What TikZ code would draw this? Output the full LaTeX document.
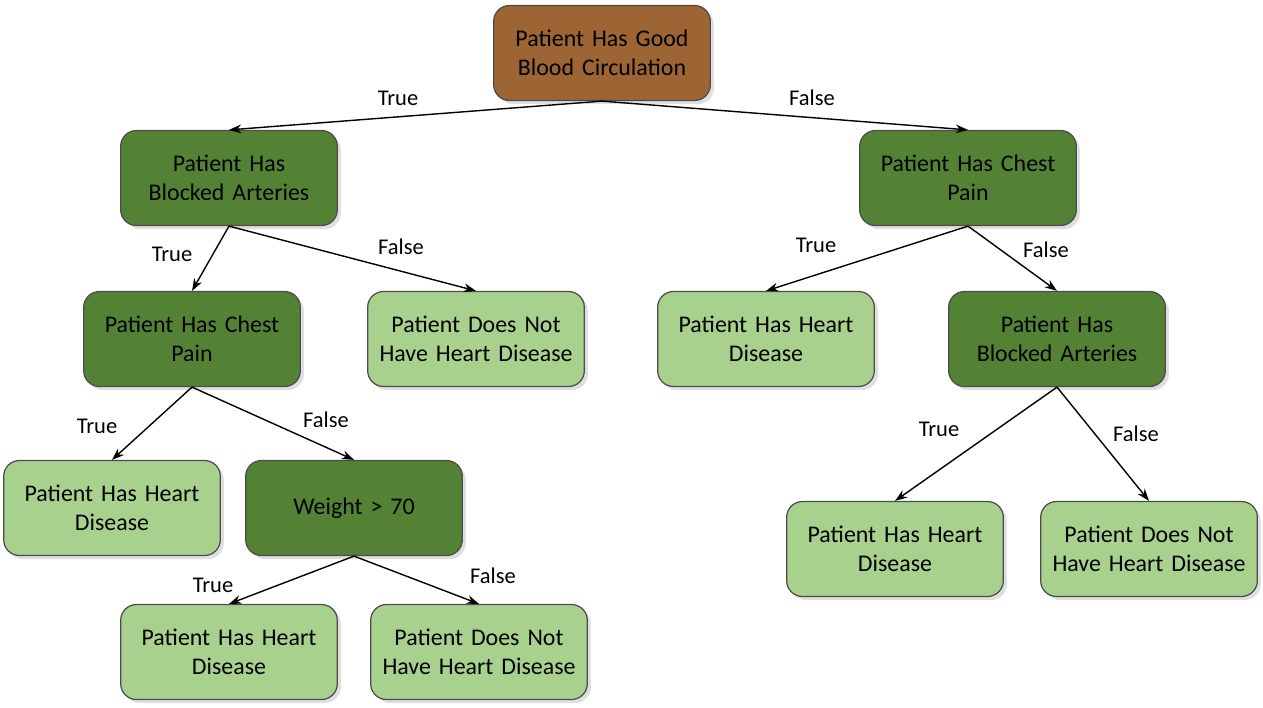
\documentclass[tikz,border=0pt]{standalone}
\usepackage{fontspec}
\setmainfont{Carlito}
\usetikzlibrary{shadows,arrows.meta}

\definecolor{rootbrown}{RGB}{157,101,51}
\definecolor{testgreen}{RGB}{84,130,53}
\definecolor{leafgreen}{RGB}{169,209,142}

\tikzset{
  box/.style={rounded corners=9pt,draw=black!70,line width=0.7pt,
    minimum width=4.3cm,minimum height=1.9cm,text width=4.1cm,align=center,
    font=\fontsize{13.6}{16.2}\selectfont,
    drop shadow={opacity=0.25,shadow xshift=2pt,shadow yshift=-2pt}},
  rootbox/.style={box,fill=rootbrown},
  testbox/.style={box,fill=testgreen},
  leafbox/.style={box,fill=leafgreen},
  arr/.style={-{Stealth[length=7pt,width=5pt]},line width=0.8pt},
  lbl/.style={font=\fontsize{12.8}{15}\selectfont}
}

\begin{document}
\begin{tikzpicture}[x=0.02cm,y=-0.02cm]
  \useasboundingbox (0,0) rectangle (1263,707);
  % nodes
  \node[rootbox] (root) at (602,53) {Patient Has Good\\Blood Circulation};
  \node[testbox] (blk1) at (229,178) {Patient Has\\Blocked Arteries};
  \node[testbox] (pain1) at (968,178) {Patient Has Chest\\Pain};
  \node[testbox] (pain2) at (192,339) {Patient Has Chest\\Pain};
  \node[leafbox] (no1) at (476,339) {Patient Does Not\\Have Heart Disease};
  \node[leafbox] (yes1) at (766,339) {Patient Has Heart\\Disease};
  \node[testbox] (blk2) at (1057,339) {Patient Has\\Blocked Arteries};
  \node[leafbox] (yes2) at (112,508) {Patient Has Heart\\Disease};
  \node[testbox] (wt) at (354,508) {Weight > 70};
  \node[leafbox] (yes3) at (895,549) {Patient Has Heart\\Disease};
  \node[leafbox] (no2) at (1149,549) {Patient Does Not\\Have Heart Disease};
  \node[leafbox] (yes4) at (229,652) {Patient Has Heart\\Disease};
  \node[leafbox] (no3) at (479,652) {Patient Does Not\\Have Heart Disease};
  % edges
  \draw[arr] (root.south) -- (blk1.north);
  \draw[arr] (root.south) -- (pain1.north);
  \draw[arr] (blk1.south) -- (pain2.north);
  \draw[arr] (blk1.south) -- (no1.north);
  \draw[arr] (pain1.south) -- (yes1.north);
  \draw[arr] (pain1.south) -- (blk2.north);
  \draw[arr] (pain2.south) -- (yes2.north);
  \draw[arr] (pain2.south) -- (wt.north);
  \draw[arr] (blk2.south) -- (yes3.north);
  \draw[arr] (blk2.south) -- (no2.north);
  \draw[arr] (wt.south) -- (yes4.north);
  \draw[arr] (wt.south) -- (no3.north);
  % labels
  \node[lbl] (t1) at (398,98) {True};
  \node[lbl] (f1) at (812,98) {False};
  \node[lbl] (t2) at (172,254) {True};
  \node[lbl] (f2) at (401,247) {False};
  \node[lbl] (t3) at (816,245) {True};
  \node[lbl] (f3) at (1046,250) {False};
  \node[lbl] (t4) at (97,426) {True};
  \node[lbl] (f4) at (326,420) {False};
  \node[lbl] (t5) at (939,429) {True};
  \node[lbl] (f5) at (1136,434) {False};
  \node[lbl] (t6) at (213,585) {True};
  \node[lbl] (f6) at (493,576) {False};
\end{tikzpicture}
\end{document}
